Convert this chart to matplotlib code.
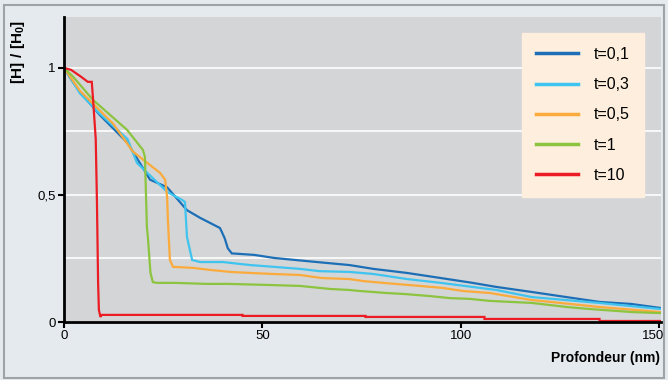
import matplotlib
matplotlib.use("Agg")
import matplotlib.pyplot as plt
import matplotlib.patches as patches
from matplotlib.ticker import FixedLocator
from matplotlib.transforms import ScaledTranslation

# profondeur (nm) / concentration relative pour chaque temps
x_t01 = [0, 2, 4, 9, 16, 21.7, 26, 31, 34.3, 39.3, 39.8, 40.5, 41.3, 42.3, 48, 53, 61, 72, 78, 86.5, 95, 103, 109, 118, 135, 143, 150.5]
y_t01 = [1.0, 0.95, 0.906, 0.815, 0.705, 0.56, 0.53, 0.44, 0.41, 0.37, 0.354, 0.33, 0.29, 0.27, 0.264, 0.252, 0.24, 0.224, 0.209, 0.193, 0.173, 0.154, 0.138, 0.118, 0.079, 0.071, 0.055]

x_t03 = [0, 4, 9, 16, 18.4, 26, 29.8, 30.5, 31, 32.3, 34.3, 40, 47, 53, 59.5, 64.5, 72, 78, 86.5, 95, 103, 109, 118, 135, 150.5]
y_t03 = [1.0, 0.9, 0.82, 0.72, 0.626, 0.512, 0.48, 0.472, 0.335, 0.244, 0.236, 0.236, 0.224, 0.217, 0.209, 0.2, 0.197, 0.189, 0.169, 0.154, 0.138, 0.126, 0.098, 0.075, 0.051]

x_t05 = [0, 4, 12.4, 17.4, 24.2, 25.5, 26.0, 26.2, 26.7, 27.5, 32.5, 36.8, 42, 47, 52.7, 59.5, 65, 72, 75.5, 80.4, 89.7, 95.5, 100.6, 107.4, 117.7, 135, 150.5]
y_t05 = [1.0, 0.91, 0.78, 0.67, 0.587, 0.56, 0.49, 0.40, 0.244, 0.217, 0.213, 0.205, 0.197, 0.193, 0.189, 0.185, 0.173, 0.169, 0.161, 0.154, 0.142, 0.134, 0.122, 0.114, 0.087, 0.059, 0.039]

x_t1 = [0, 2.3, 7.3, 11.6, 15.9, 19.9, 20.4, 20.9, 21.2, 21.8, 22.4, 23.4, 28, 36, 41.3, 51, 59.5, 67.1, 72, 74.6, 81.4, 86, 92.3, 97.3, 102.3, 107.4, 118, 126.8, 132.6, 143.4, 150.5]
y_t1 = [1.0, 0.965, 0.874, 0.815, 0.756, 0.677, 0.65, 0.374, 0.323, 0.193, 0.157, 0.154, 0.154, 0.15, 0.15, 0.146, 0.142, 0.13, 0.126, 0.122, 0.114, 0.11, 0.102, 0.094, 0.091, 0.083, 0.075, 0.059, 0.051, 0.039, 0.035]

x_t10 = [0, 1.8, 4.3, 6.0, 7.0, 7.4, 8.0, 8.3, 8.6, 8.8, 9.2, 9.5, 45, 45, 76, 76, 106, 106, 135, 135, 150.5]
y_t10 = [1.0, 0.992, 0.965, 0.945, 0.945, 0.86, 0.72, 0.48, 0.154, 0.047, 0.02, 0.028, 0.028, 0.024, 0.024, 0.02, 0.02, 0.012, 0.012, 0.004, 0.004]

series = [
    ("t=0,1", x_t01, y_t01, "#1c6fb6"),
    ("t=0,3", x_t03, y_t03, "#3fc4f0"),
    ("t=0,5", x_t05, y_t05, "#fbab3c"),
    ("t=1", x_t1, y_t1, "#8cc43f"),
    ("t=10", x_t10, y_t10, "#ec1c24"),
]

plt.rcParams['font.family'] = ['Liberation Sans', 'DejaVu Sans']
plt.rcParams['mathtext.fontset'] = 'custom'
plt.rcParams['mathtext.rm'] = 'Liberation Sans'
plt.rcParams['mathtext.bf'] = 'Liberation Sans:bold'

fig = plt.figure(figsize=(6.68, 3.8), dpi=100)
fig.patch.set_facecolor("#e5eaee")
# cadre autour de la figure
fig.patches.append(patches.Rectangle((0.006, 0.006), 0.988, 0.982, transform=fig.transFigure,
                                     fill=False, edgecolor="#9ea3a8", linewidth=1.5))

ax = fig.add_axes([0.0958, 0.1526, 0.8937, 0.8026])
ax.set_facecolor("#d4d5d7")

for label, xs, ys, color in series:
    ax.plot(xs, ys, color=color, linewidth=1.6, label=label, solid_joinstyle='miter')

ax.set_xlim(0, 150.5)
ax.set_ylim(0, 1.2)

ax.set_xticks([0, 50, 100, 150])
ax.set_xticklabels(["0", "50", "100", "150"])
ax.set_yticks([0, 0.5, 1])
ax.set_yticklabels(["0", "0,5", "1"])
ax.yaxis.set_minor_locator(FixedLocator([0.25, 0.75]))
ax.tick_params(axis='y', which='minor', length=0)
ax.tick_params(axis='both', which='major', length=4, width=1.5, labelsize=9.5, color='black', pad=2)

# décaler un peu le dernier label pour qu'il ne soit pas coupé
last = ax.get_xticklabels()[-1]
last.set_transform(last.get_transform() + ScaledTranslation(-4 / 72, 0, fig.dpi_scale_trans))

ax.grid(True, axis='y', which='both', color='white', linewidth=1.2)
ax.set_axisbelow(True)

for side in ['top', 'right']:
    ax.spines[side].set_visible(False)
for side in ['left', 'bottom']:
    ax.spines[side].set_linewidth(2)
    ax.spines[side].set_color('black')

ax.set_ylabel(r"$\mathbf{[H]\ /\ [H_0]}$", fontsize=11)
ax.yaxis.set_label_coords(-0.062, 0.885)
ax.set_xlabel("Profondeur (nm)", fontsize=10, fontweight='bold')
ax.xaxis.set_label_coords(0.998, -0.095)
ax.xaxis.label.set_horizontalalignment('right')

leg = ax.legend(loc='upper right', bbox_to_anchor=(0.985, 0.975), frameon=True, fancybox=False,
                facecolor="#fdeedd", edgecolor="#fdeedd", framealpha=1, fontsize=11.5,
                handlelength=2.6, handletextpad=1.0, labelspacing=0.95, borderpad=0.9)
for line in leg.get_lines():
    line.set_linewidth(2.5)

fig.savefig("out.png", dpi=100, facecolor=fig.get_facecolor())
